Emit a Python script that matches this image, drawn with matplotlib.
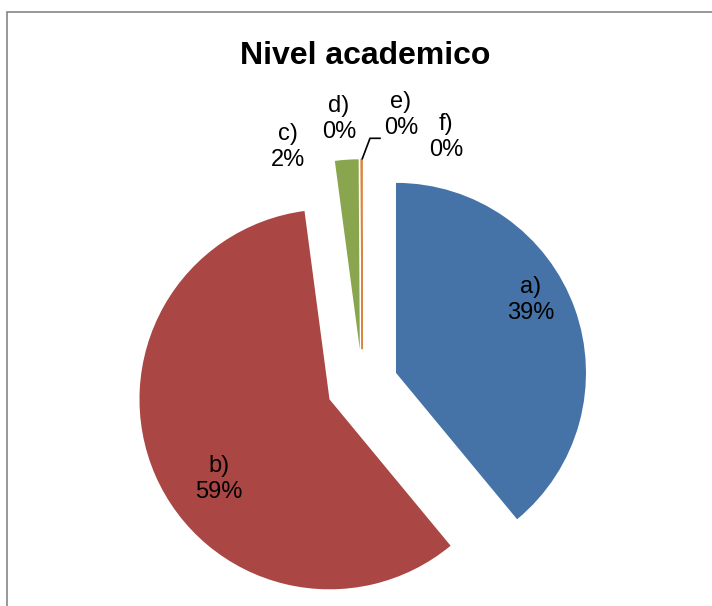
"""
Exploded pie chart: Nivel academico.
"""

import matplotlib

matplotlib.use("Agg")
import matplotlib.pyplot as plt  # noqa: E402
from matplotlib.patches import Rectangle  # noqa: E402

categories = ["a)", "b)", "c)", "d)", "e)", "f)"]
values = [39.0, 58.9, 2.0, 0.0, 0.0, 0.1]
colors = ["#4573A7", "#AA4643", "#89A54E", "#71588F", "#4198AF", "#DB843D"]

# label block centres in pixel coords (x, y from top)
label_pos = [(531, 300), (219, 479), (288, 147), (339, 119), (401, 115), (446, 137)]

W, H = 712, 606
FONT = ["Liberation Sans Narrow", "Liberation Sans", "DejaVu Sans"]

fig = plt.figure(figsize=(W / 100, H / 100), dpi=100)
ax = fig.add_axes([0, 0, 1, 1])

wedges, _ = ax.pie(
    values,
    colors=colors,
    startangle=90,
    counterclock=False,
    center=(362.3, H - 385),
    radius=190,
    explode=[35.8] * len(values),
    wedgeprops={"linewidth": 0},
)
# the near-zero slice shows as a thin orange line
wedges[-1].set_edgecolor(colors[-1])
wedges[-1].set_linewidth(0.9)

total = sum(values)
for cat, val, (px, py) in zip(categories, values, label_pos):
    ax.text(
        px, H - py, f"{cat}\n{100 * val / total:.0f}%",
        ha="center", va="center", fontsize=17, family=FONT,
        linespacing=1.2, color="black",
    )

# leader line for e)
ax.plot([362.3, 370, 380], [H - 158.7, H - 138.3, H - 138.3], color="black", lw=1.2)

fig.text(365 / W, 1 - 56 / H, "Nivel academico", ha="center", va="center",
         fontsize=23, fontweight="bold", family=FONT)

ax.add_patch(Rectangle((7, -10), W + 20, H - 12 + 10, fill=False,
                       edgecolor="#868686", lw=1.2, clip_on=False))

ax.set_xlim(0, W)
ax.set_ylim(0, H)
ax.set_aspect("equal")
ax.axis("off")

fig.savefig("out.png", dpi=100)
plt.close(fig)
